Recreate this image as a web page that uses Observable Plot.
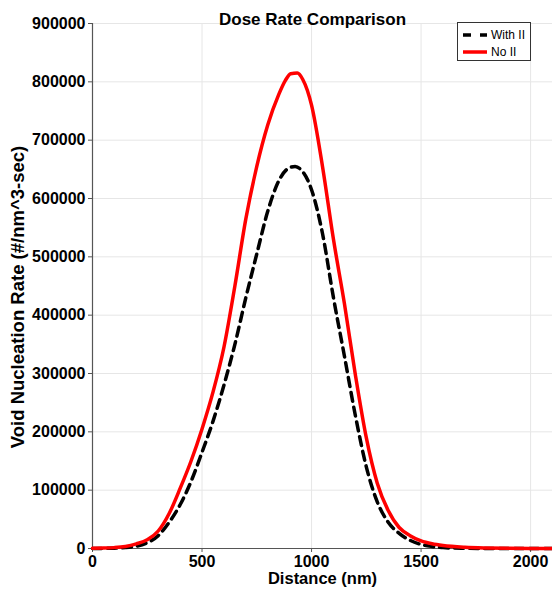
<!DOCTYPE html>
<html>
<head>
<meta charset="utf-8">
<script src="https://cdn.jsdelivr.net/npm/d3@7"></script>
<script src="https://cdn.jsdelivr.net/npm/@observablehq/plot@0.6"></script>
<style>
  html, body { margin: 0; padding: 0; background: #fff; }
  #wrap { position: relative; width: 552px; height: 592px; font-family: "Liberation Sans", Arial, sans-serif; }
  #legend { position: absolute; left: 457px; top: 22px; width: 74px; height: 39px; border: 1px solid #333; background: #fff; box-sizing: border-box; font-size: 12px; color: #000; }
  .item { position: absolute; left: 4px; display: flex; align-items: center; }
  .item svg { margin-right: 3px; }
  #ylabel { position: absolute; left: 17.5px; top: 297px; transform: translate(-50%, -50%) rotate(-90deg); white-space: nowrap; font-size: 18.5px; font-weight: bold; color: #000; }
</style>
</head>
<body>
<div id="wrap"></div>
<script>
const distance = [0, 50, 100, 150, 200, 250, 300, 350, 400, 450, 500, 550, 600, 650, 700, 750, 800, 850, 880, 905, 935, 960, 1000, 1050, 1100, 1150, 1200, 1250, 1300, 1350, 1400, 1450, 1500, 1550, 1600, 1700, 1800, 1900, 2000, 2100];
const noII = [500, 700, 1500, 3500, 8000, 15000, 30000, 60000, 103000, 150000, 205000, 268000, 345000, 450000, 565000, 655000, 726000, 778000, 802000, 814000, 815000, 804000, 760000, 655000, 530000, 420000, 298000, 190000, 112000, 65000, 36000, 22000, 13000, 8000, 5000, 2000, 800, 300, 100, 0];
const withDistance = [0, 50, 100, 150, 200, 250, 300, 350, 400, 450, 500, 550, 600, 650, 700, 750, 800, 850, 900, 925, 950, 1000, 1050, 1100, 1150, 1200, 1250, 1300, 1350, 1400, 1450, 1500, 1550, 1600, 1700, 1800, 2000, 2100];
const withII = [0, 200, 600, 1500, 4000, 10000, 22000, 45000, 75000, 115000, 165000, 218000, 280000, 350000, 430000, 505000, 578000, 630000, 653000, 655000, 650000, 615000, 540000, 430000, 330000, 228000, 140000, 80000, 45000, 26000, 14000, 7000, 3500, 1500, 400, 100, 0, 0];
const xTicks = [0, 500, 1000, 1500, 2000];
const yTicks = [0, 100000, 200000, 300000, 400000, 500000, 600000, 700000, 800000, 900000];
const seriesNames = ["With II", "No II"];
const titleText = "Dose Rate Comparison";
const xLabel = "Distance (nm)";
const yLabel = "Void Nucleation Rate (#/nm^3-sec)";

const redData = distance.map((d, i) => ({x: d, y: noII[i]}));
const blackData = withDistance.map((d, i) => ({x: d, y: withII[i]}));

const chart = Plot.plot({
  width: 552,
  height: 592,
  marginLeft: 92,
  marginRight: 0,
  marginTop: 23,
  marginBottom: 44,
  style: {fontFamily: '"Liberation Sans", Arial, sans-serif', fontSize: "16px", fontWeight: "bold", color: "#000", background: "#fff"},
  x: {domain: [0, 2100], ticks: xTicks},
  y: {domain: [0, 900000], ticks: yTicks},
  marks: [
    Plot.gridX(xTicks.slice(1), {stroke: "#e6e6e6", strokeOpacity: 1}),
    Plot.gridY(yTicks.slice(1), {stroke: "#e6e6e6", strokeOpacity: 1}),
    Plot.axisX({ticks: xTicks, tickSize: 4, tickFormat: d3.format("d"), stroke: "#555", fontSize: 16, fontWeight: "bold", tickPadding: 3, label: null}),
    Plot.axisY({ticks: yTicks, tickSize: 4, tickFormat: d3.format("d"), stroke: "#555", fontSize: 16, fontWeight: "bold", tickPadding: 3, label: null}),
    Plot.text([xLabel], {frameAnchor: "bottom", dy: 35.5, fontSize: 16.5, fontWeight: "bold", fill: "#000"}),
    Plot.ruleX([0], {stroke: "#555", strokeWidth: 1.2}),
    Plot.ruleY([0], {stroke: "#555", strokeWidth: 1.2}),
    Plot.line(blackData, {x: "x", y: "y", stroke: "#000", strokeWidth: 3.5, strokeDasharray: "9,6", curve: "monotone-x"}),
    Plot.line(redData, {x: "x", y: "y", stroke: "#ff0000", strokeWidth: 3.5, curve: "monotone-x"}),
    Plot.text([titleText], {frameAnchor: "top", dx: -10, dy: -11, fontSize: 17, fontWeight: "bold", fill: "#000"})
  ]
});
const wrap = document.getElementById("wrap");
wrap.appendChild(chart);

const yl = document.createElement("div");
yl.id = "ylabel";
yl.textContent = yLabel;
wrap.appendChild(yl);

const legend = document.createElement("div");
legend.id = "legend";
legend.innerHTML =
  `<div class="item" style="top:5px"><svg width="26" height="10"><line x1="1" y1="5" x2="25" y2="5" stroke="#000" stroke-width="3.5" stroke-dasharray="8,9"/></svg>${seriesNames[0]}</div>` +
  `<div class="item" style="top:22px"><svg width="26" height="10"><line x1="1" y1="5" x2="25" y2="5" stroke="#ff0000" stroke-width="3.5"/></svg>${seriesNames[1]}</div>`;
wrap.appendChild(legend);
</script>
</body>
</html>
